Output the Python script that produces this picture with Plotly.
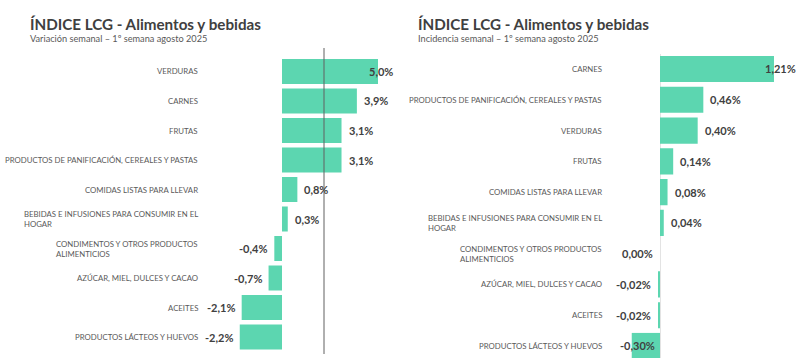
import plotly.graph_objects as go

# ---- data ----
var_categories = [
    "VERDURAS",
    "CARNES",
    "FRUTAS",
    "PRODUCTOS DE PANIFICACIÓN, CEREALES Y PASTAS",
    "COMIDAS LISTAS PARA LLEVAR",
    "BEBIDAS E INFUSIONES PARA CONSUMIR EN EL<br>HOGAR",
    "CONDIMENTOS Y OTROS PRODUCTOS<br>ALIMENTICIOS",
    "AZÚCAR, MIEL, DULCES Y CACAO",
    "ACEITES",
    "PRODUCTOS LÁCTEOS Y HUEVOS",
]
var_values = [5.0, 3.9, 3.1, 3.1, 0.8, 0.3, -0.4, -0.7, -2.1, -2.2]

inc_categories = [
    "CARNES",
    "PRODUCTOS DE PANIFICACIÓN, CEREALES Y PASTAS",
    "VERDURAS",
    "FRUTAS",
    "COMIDAS LISTAS PARA LLEVAR",
    "BEBIDAS E INFUSIONES PARA CONSUMIR EN EL<br>HOGAR",
    "CONDIMENTOS Y OTROS PRODUCTOS<br>ALIMENTICIOS",
    "AZÚCAR, MIEL, DULCES Y CACAO",
    "ACEITES",
    "PRODUCTOS LÁCTEOS Y HUEVOS",
]
inc_values = [1.21, 0.46, 0.40, 0.14, 0.08, 0.04, 0.00, -0.02, -0.02, -0.30]

title_text = "ÍNDICE LCG - Alimentos y bebidas"
sub_left = "Variación semanal – 1º semana agosto 2025"
sub_right = "Incidencia semanal – 1º semana agosto 2025"

# ---- style ----
W, H = 800, 358
BAR = "#5CD6B0"
DARK = "#404040"
GRAY = "#595959"
FONT = "Lato"

def px_x(p):
    return p / W

def px_y(p):
    return 1 - p / H

def text_w(s):
    w = 0
    for ch in s:
        if ch.isdigit():
            w += 6.4
        elif ch == ",":
            w += 2.8
        elif ch == "%":
            w += 8.7
        elif ch == "-":
            w += 4.0
        else:
            w += 5
    return w

fig = go.Figure()

fig.add_trace(go.Bar(x=var_values, y=list(range(len(var_categories))), orientation="h",
                     marker=dict(color=BAR, line=dict(width=0)), xaxis="x", yaxis="y",
                     hoverinfo="skip"))
fig.add_trace(go.Bar(x=inc_values, y=list(range(len(inc_categories))), orientation="h",
                     marker=dict(color=BAR, line=dict(width=0)), xaxis="x2", yaxis="y2",
                     hoverinfo="skip"))

# axis geometry (pixels)
L_left, L_right, L_zero, L_scale = 205, 397, 282, 19.2
R_left, R_right, R_zero, R_scale = 616, 800, 660, 94.2

lxr = [(L_left - L_zero) / L_scale, (L_right - L_zero) / L_scale]
rxr = [(R_left - R_zero) / R_scale, (R_right - R_zero) / R_scale]

fig.update_layout(
    width=W, height=H,
    margin=dict(l=0, r=0, t=0, b=0),
    paper_bgcolor="white", plot_bgcolor="rgba(0,0,0,0)",
    showlegend=False,
    bargap=0.15,
    font=dict(family=FONT, color=DARK),
    xaxis=dict(domain=[px_x(L_left), px_x(L_right)], range=lxr, visible=False, fixedrange=True),
    yaxis=dict(domain=[px_y(351.75), px_y(56.75)], range=[9.5, -0.5], visible=False, anchor="x"),
    xaxis2=dict(domain=[px_x(R_left), px_x(R_right)], range=rxr, showgrid=False,
                showticklabels=False, zeroline=True, zerolinecolor="#E3E3E3", zerolinewidth=1,
                anchor="y2"),
    yaxis2=dict(domain=[0, px_y(53.6)], range=[9.39, -0.5], visible=False, anchor="x2"),
)

ann = []

def add_panel(cats, vals, xref, yref, label_x, title_x, sub, decimals):
    for i, (c, v) in enumerate(zip(cats, vals)):
        ann.append(dict(x=px_x(label_x), y=i, xref="paper", yref=yref, text=c,
                        xanchor="right", yanchor="middle", align="left", showarrow=False,
                        font=dict(family=FONT, size=7.8, color=GRAY)))
        s = f"{v:.{decimals}f}".replace(".", ",") + "%"
        if v > 0:
            ann.append(dict(x=v, y=i, xref=xref, yref=yref, text=f"<b>{s}</b>",
                            xanchor="left", yanchor="middle", xshift=5, showarrow=False,
                            font=dict(family=FONT, size=11, color=DARK)))
        else:
            ann.append(dict(x=v, y=i, xref=xref, yref=yref, text=f"<b>{s}</b>",
                            xanchor="right", yanchor="middle", xshift=-5, showarrow=False,
                            font=dict(family=FONT, size=11, color=DARK)))
    ann.append(dict(x=px_x(title_x), y=px_y(23.5), xref="paper", yref="paper", text=f"<b>{title_text}</b>",
                    xanchor="left", yanchor="middle", showarrow=False,
                    font=dict(family=FONT, size=15.2, color=DARK)))
    ann.append(dict(x=px_x(title_x), y=px_y(39), xref="paper", yref="paper", text=sub,
                    xanchor="left", yanchor="middle", showarrow=False,
                    font=dict(family=FONT, size=9.2, color=GRAY)))

add_panel(var_categories, var_values, "x", "y", 200, 28, sub_left, 1)
add_panel(inc_categories, inc_values, "x2", "y2", 604, 416, sub_right, 2)

# clamp value labels that would run past the plot edges
def clamp(a, xr, left_px, right_px, zero_px, scale):
    if not a["text"].startswith("<b>"):
        return
    s = a["text"][3:-4]
    w = text_w(s)
    v = a["x"]
    end_px = zero_px + v * scale
    if a["xanchor"] == "left" and end_px + 5 + w > right_px - 2:
        a["x"] = xr[1]
        a["xanchor"] = "right"
        a["xshift"] = -2
    elif a["xanchor"] == "right" and end_px - 5 - w < left_px:
        a["x"] = xr[0]
        a["xanchor"] = "left"
        a["xshift"] = 2

for a in ann:
    if a.get("xref") == "x":
        clamp(a, lxr, L_left, L_right, L_zero, L_scale)
    elif a.get("xref") == "x2":
        clamp(a, rxr, R_left, R_right, R_zero, R_scale)

fig.update_layout(annotations=ann)

# separator line in the left panel
fig.add_shape(type="line", xref="paper", yref="paper", x0=px_x(324), x1=px_x(324),
              y0=px_y(48), y1=px_y(354), line=dict(color="#606060", width=1))

fig.write_html("out.html", config={"displayModeBar": False},
               post_script="document.body.style.margin='0';document.body.style.overflow='hidden';")
